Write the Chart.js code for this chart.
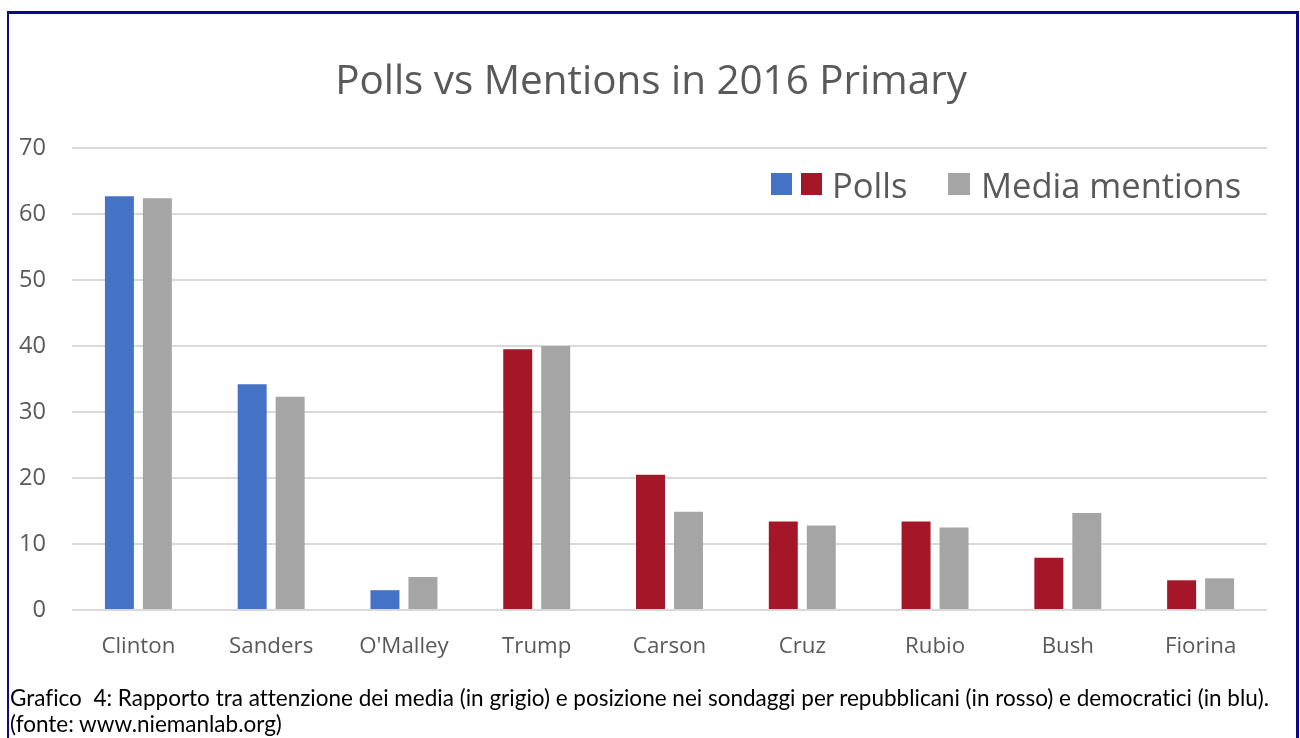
<!DOCTYPE html>
<html>
<head>
<meta charset="utf-8">
<script src="https://cdn.jsdelivr.net/npm/chart.js@4.4.1/dist/chart.umd.min.js"></script>
<style>
  html, body { margin: 0; padding: 0; background: #ffffff; }
  #wrap { position: relative; width: 1300px; height: 738px; overflow: hidden; background: #fff; }
  #c { position: absolute; left: 0; top: 0; }
  #frame { position: absolute; left: 7px; top: 11px; width: 1287px; height: 800px;
           border-top: 3px solid #0a0a86; border-left: 2px solid #0a0a86; border-right: 3px solid #0a0a86; box-sizing: content-box; }
  .cap { position: absolute; left: 10px; font-family: "Lato", "Open Sans", sans-serif; color: #000; white-space: nowrap; line-height: 1;
         font-variant-ligatures: none; font-feature-settings: "liga" 0; }
</style>
</head>
<body>
<div id="wrap">
  <canvas id="c" width="1300" height="738"></canvas>
  <div id="frame"></div>
  <div class="cap" id="cap1">Grafico&nbsp; 4: Rapporto tra attenzione dei media (in grigio) e posizione nei sondaggi per repubblicani (in rosso) e democratici (in blu).</div>
  <div class="cap" id="cap2">(fonte: www.niemanlab.org)</div>
</div>
<script>
// ---- data ----
const categories = ['Clinton', 'Sanders', "O'Malley", 'Trump', 'Carson', 'Cruz', 'Rubio', 'Bush', 'Fiorina'];
const parties    = ['D', 'D', 'D', 'R', 'R', 'R', 'R', 'R', 'R'];
const polls      = [62.7, 34.2, 3.0, 39.5, 20.5, 13.4, 13.4, 7.9, 4.5];
const mentions   = [62.4, 32.3, 5.0, 40.0, 14.9, 12.8, 12.5, 14.7, 4.8];
const yTicks     = [0, 10, 20, 30, 40, 50, 60, 70];
const titleText  = 'Polls vs Mentions in 2016 Primary';
const legendPolls = 'Polls';
const legendMedia = 'Media mentions';

// ---- styles ----
const BLUE = '#4472C4', RED = '#A51628', GRAY = '#A5A5A5', TXT = '#595959', GRID = '#D9D9D9';
const partyColor = { D: BLUE, R: RED };

function fitSize(text, family, targetW) {
  const ctx = document.createElement('canvas').getContext('2d');
  ctx.font = '100px "' + family + '"';
  return Math.round(100 * targetW / ctx.measureText(text).width * 10) / 10;
}
const FAM = 'Open Sans';
const titleSize  = fitSize(titleText, FAM, 632);
const legendSize = fitSize(legendMedia, FAM, 260);
const xSize      = fitSize('Clinton', FAM, 74);
const ySize      = fitSize('70', FAM, 27);
const capSize    = fitSize(document.getElementById('cap1').textContent, 'Lato', 1258);

const c1 = document.getElementById('cap1'), c2 = document.getElementById('cap2');
c1.style.fontSize = capSize + 'px'; c2.style.fontSize = capSize + 'px';
c1.style.top = (699 - capSize * 0.55) + 'px';
c2.style.top = (725 - capSize * 0.55) + 'px';

const decor = {
  id: 'decor',
  afterDraw(chart) {
    const ctx = chart.ctx;
    ctx.save();
    ctx.fillStyle = TXT;
    ctx.textBaseline = 'middle';
    ctx.textAlign = 'center';
    ctx.font = titleSize + 'px "' + FAM + '"';
    ctx.fillText(titleText, 651, 82);
    // legend
    ctx.fillStyle = BLUE; ctx.fillRect(771, 173, 21, 22);
    ctx.fillStyle = RED;  ctx.fillRect(801, 173, 21, 22);
    ctx.fillStyle = GRAY; ctx.fillRect(948, 173, 22, 22);
    ctx.fillStyle = TXT;
    ctx.textAlign = 'left';
    ctx.font = legendSize + 'px "' + FAM + '"';
    ctx.fillText(legendPolls, 832, 188);
    ctx.fillText(legendMedia, 981, 188);
    ctx.restore();
  }
};

Chart.defaults.font.family = FAM;
Chart.defaults.color = TXT;

new Chart(document.getElementById('c'), {
  type: 'bar',
  data: {
    labels: categories,
    datasets: [
      { label: legendPolls, data: polls, backgroundColor: parties.map(p => partyColor[p]), borderWidth: 0 },
      { label: legendMedia, data: mentions, backgroundColor: GRAY, borderWidth: 0 }
    ]
  },
  options: {
    responsive: false,
    animation: false,
    events: [],
    categoryPercentage: 0.572,
    barPercentage: 0.763,
    layout: { padding: { left: 0, right: 33, top: 148, bottom: 0 } },
    plugins: { legend: { display: false }, title: { display: false }, tooltip: { enabled: false } },
    scales: {
      x: {
        grid: { display: false, drawTicks: false },
        border: { display: false },
        ticks: { font: { size: xSize }, color: TXT, padding: 23, maxRotation: 0, autoSkip: false },
        afterFit(s) { s.height = 128; }
      },
      y: {
        min: 0, max: 70,
        afterBuildTicks(s) { s.ticks = yTicks.map(v => ({ value: v })); },
        grid: { color: GRID, lineWidth: 2, drawTicks: false },
        border: { display: false },
        ticks: { font: { size: ySize }, color: TXT, padding: 26 },
        afterFit(s) { s.width = 72; }
      }
    }
  },
  plugins: [decor]
});
</script>
</body>
</html>
